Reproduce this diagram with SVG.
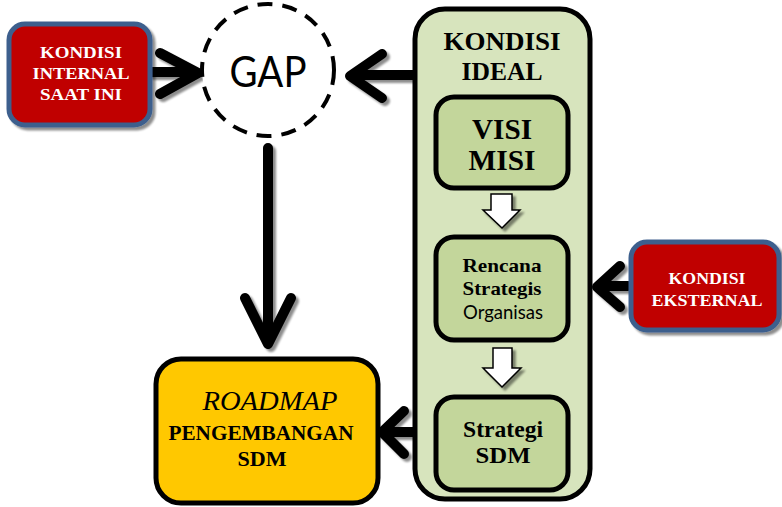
<svg xmlns="http://www.w3.org/2000/svg" width="782" height="507" viewBox="0 0 782 507">
<defs>
<filter id="sh" x="-20%" y="-20%" width="150%" height="150%">
<feGaussianBlur in="SourceAlpha" stdDeviation="1.2"/>
<feOffset dx="3" dy="3" result="b"/>
<feComponentTransfer><feFuncA type="linear" slope="0.45"/></feComponentTransfer>
<feMerge><feMergeNode/><feMergeNode in="SourceGraphic"/></feMerge>
</filter>
</defs>
<style>
.red{fill:#c00000;stroke:#3c5f8d;stroke-width:5}
.grn{fill:#c3d69b;stroke:#000;stroke-width:5}
.arr{fill:none;stroke:#000;stroke-width:10;stroke-linecap:round;stroke-linejoin:round}
.wa{fill:#fff;stroke:#000;stroke-width:1.5}
.sw{font-family:"Liberation Serif",serif;font-weight:bold;fill:#fff;font-size:17px;text-anchor:middle}
.sb{font-family:"Liberation Serif",serif;font-weight:bold;fill:#000;text-anchor:middle}
</style>
<g id="connectors" filter="url(#sh)">
<path class="arr" d="M152 72 H196 M160 53 L198 73 L160 94"/>
<path class="arr" d="M413 75 H352 M382 54 L350 76 L382 98"/>
<path class="arr" d="M268 148 V342 M245 298 L268 344 L291 298"/>
<path class="arr" d="M628 286 H598 M620 266 L597 287 L620 307"/>
<path class="arr" d="M413 432 H384 M404 411 L382 432 L404 454"/>
</g>
<g id="internal">
<rect class="red" x="9" y="24" width="141" height="101" rx="16" filter="url(#sh)"/>
<text class="sw" x="81" y="58" textLength="82" lengthAdjust="spacingAndGlyphs">KONDISI</text>
<text class="sw" x="81" y="79" textLength="97" lengthAdjust="spacingAndGlyphs">INTERNAL</text>
<text class="sw" x="81" y="100" textLength="82" lengthAdjust="spacingAndGlyphs">SAAT INI</text>
</g>
<g id="gap">
<circle cx="268" cy="70" r="66" fill="#fff" stroke="#000" stroke-width="4" stroke-dasharray="15 10"/>
<text x="268" y="87" font-family="Lato,sans-serif" font-size="43" text-anchor="middle" fill="#000" textLength="77" lengthAdjust="spacingAndGlyphs">GAP</text>
</g>
<g id="ideal">
<rect x="415" y="9" width="175" height="490" rx="30" fill="#d7e4bd" stroke="#000" stroke-width="5"/>
<text class="sb" x="502" y="50" font-size="26" textLength="117" lengthAdjust="spacingAndGlyphs">KONDISI</text>
<text class="sb" x="502" y="80" font-size="26" textLength="81" lengthAdjust="spacingAndGlyphs">IDEAL</text>
</g>
<g id="visimisi">
<rect class="grn" x="436" y="97" width="132" height="91" rx="18"/>
<text class="sb" x="502" y="139" font-size="29" textLength="60" lengthAdjust="spacingAndGlyphs">VISI</text>
<text class="sb" x="502" y="170" font-size="29" textLength="67" lengthAdjust="spacingAndGlyphs">MISI</text>
</g>
<g id="rencana">
<rect class="grn" x="436" y="237" width="132" height="103" rx="18"/>
<text class="sb" x="502" y="272" font-size="19" textLength="79" lengthAdjust="spacingAndGlyphs">Rencana</text>
<text class="sb" x="502" y="295" font-size="19" textLength="79" lengthAdjust="spacingAndGlyphs">Strategis</text>
<text x="503" y="319" font-family="Lato,sans-serif" font-size="19" text-anchor="middle" fill="#000" textLength="80" lengthAdjust="spacingAndGlyphs">Organisas</text>
</g>
<g id="strategi">
<rect class="grn" x="436" y="397" width="132" height="93" rx="18"/>
<text class="sb" x="503" y="437" font-size="24" textLength="80" lengthAdjust="spacingAndGlyphs">Strategi</text>
<text class="sb" x="503" y="463" font-size="24" textLength="55" lengthAdjust="spacingAndGlyphs">SDM</text>
</g>
<g id="flow" filter="url(#sh)">
<path class="wa" d="M491 194 H512 V210 H520 L502 228 L483 210 H491 Z"/>
<path class="wa" d="M493 348 H512 V368 H521 L502 387 L483 368 H493 Z"/>
</g>
<g id="eksternal">
<rect class="red" x="631" y="242" width="148" height="88" rx="16" filter="url(#sh)"/>
<text class="sw" x="707" y="284" textLength="77" lengthAdjust="spacingAndGlyphs">KONDISI</text>
<text class="sw" x="707" y="306" textLength="111" lengthAdjust="spacingAndGlyphs">EKSTERNAL</text>
</g>
<g id="roadmap">
<rect x="156" y="359" width="222" height="144" rx="25" fill="#ffc800" stroke="#000" stroke-width="5"/>
<text x="270" y="410" font-family="Liberation Serif,serif" font-style="italic" font-size="27" text-anchor="middle" fill="#000" textLength="135" lengthAdjust="spacingAndGlyphs">ROADMAP</text>
<text class="sb" x="261" y="440" font-size="20" textLength="185" lengthAdjust="spacingAndGlyphs">PENGEMBANGAN</text>
<text class="sb" x="262" y="466" font-size="20" textLength="49" lengthAdjust="spacingAndGlyphs">SDM</text>
</g>
</svg>
